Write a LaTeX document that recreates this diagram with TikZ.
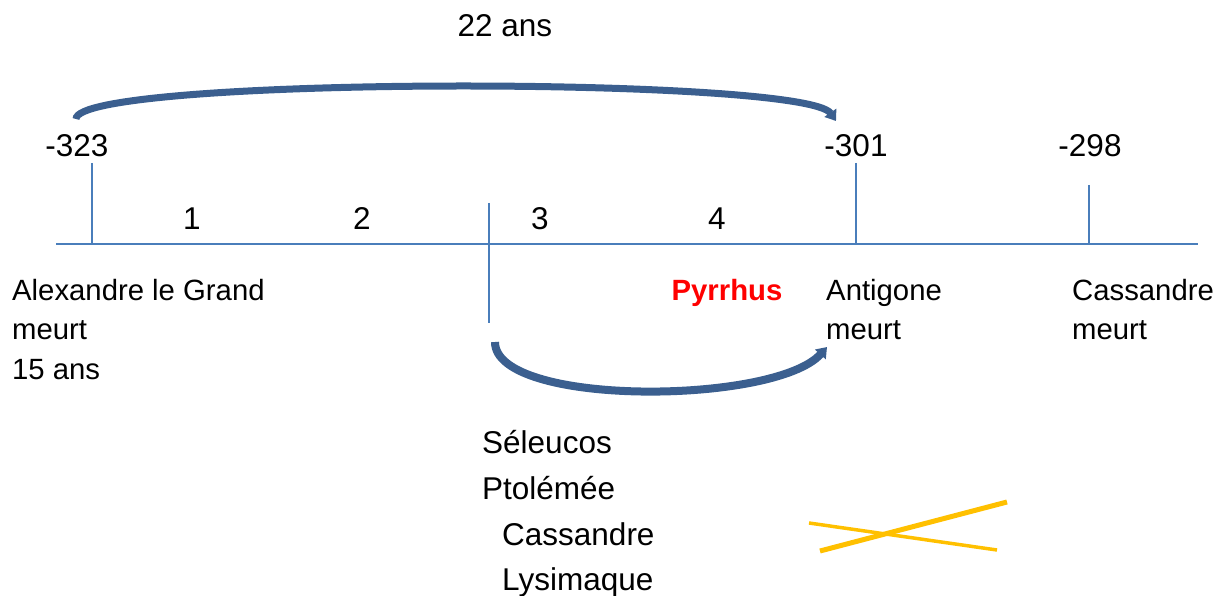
\documentclass[tikz,border=0pt]{standalone}
\usepackage{fontspec}
\setmainfont{Liberation Sans}
\usetikzlibrary{arrows.meta}
\definecolor{axisblue}{HTML}{4A7EBB}
\definecolor{arcblue}{HTML}{3B5F8F}
\definecolor{crossyellow}{HTML}{FFC000}
\tikzstyle{Year}=[anchor=base, inner sep=0pt, font=\fontsize{31.5}{38}\selectfont]
\tikzstyle{Event}=[anchor=base west, inner sep=0pt, font=\fontsize{29.3}{36}\selectfont]
\tikzstyle{Name}=[anchor=base west, inner sep=0pt, font=\fontsize{31.5}{38}\selectfont]
\tikzstyle{Tick}=[draw=axisblue, line width=1.6pt]
\tikzstyle{Span}=[draw=arcblue, line width=7pt, -{Triangle[length=10pt,width=14pt]}]

\begin{document}
\begin{tikzpicture}[x=1pt, y=-1pt]
    \useasboundingbox (0,0) rectangle (1216,596);
    \path
    (77,157) node[Year] (y323) {-323}
    (856,157) node[Year] (y301) {-301}
    (1090,157) node[Year] (y298) {-298}
    (505,37) node[Year] (dur) {22 ans}
    (192,230) node[Year] (n1) {1}
    (362,230) node[Year] (n2) {2}
    (540,230) node[Year] (n3) {3}
    (717,230) node[Year] (n4) {4}
    (12,301) node[Event] (alex) {Alexandre le Grand}
    (12,339) node[Event] (alexm) {meurt}
    (12,379) node[Event] (alexa) {15 ans}
    (727,301) node[Event, anchor=base, text=red, font=\fontsize{29.3}{36}\selectfont\bfseries] (pyr) {Pyrrhus}
    (826,301) node[Event] (anti) {Antigone}
    (826,339) node[Event] (antim) {meurt}
    (1072,301) node[Event] (cass) {Cassandre}
    (1072,339) node[Event] (cassm) {meurt}
    (482,453) node[Name] (sel) {Séleucos}
    (482,499) node[Name] (pto) {Ptolémée}
    (502,545) node[Name] (cas) {Cassandre}
    (502,590) node[Name] (lys) {Lysimaque};

    \coordinate (a0) at (56,244);
    \coordinate (a1) at (1198,244);
    \coordinate (t323) at (92,163);
    \coordinate (b323) at (92,244);
    \coordinate (tmid) at (489,203);
    \coordinate (bmid) at (489,323);
    \coordinate (t301) at (856,163);
    \coordinate (b301) at (856,244);
    \coordinate (t298) at (1089,185);
    \coordinate (b298) at (1089,244);

    \draw[Tick] (a0) -- (a1);
    \draw[Tick] (t323) -- (b323);
    \draw[Tick] (tmid) -- (bmid);
    \draw[Tick] (t301) -- (b301);
    \draw[Tick] (t298) -- (b298);

    \coordinate (s0) at (76,119);
    \coordinate (s1) at (836,121);
    \draw[Span] (s0) .. controls (76,76) and (805,76) .. (s1);

    \coordinate (r0) at (495,342);
    \coordinate (r1) at (827,347);
    \draw[Span, line width=8pt] (r0) .. controls (495,407) and (775,405) .. (r1);

    \coordinate (x0) at (820,551);
    \coordinate (x1) at (1007,502);
    \coordinate (x2) at (809,523);
    \coordinate (x3) at (997,550);
    \draw[crossyellow, line width=5pt] (x0) -- (x1);
    \draw[crossyellow, line width=3.5pt] (x2) -- (x3);
\end{tikzpicture}
\end{document}
